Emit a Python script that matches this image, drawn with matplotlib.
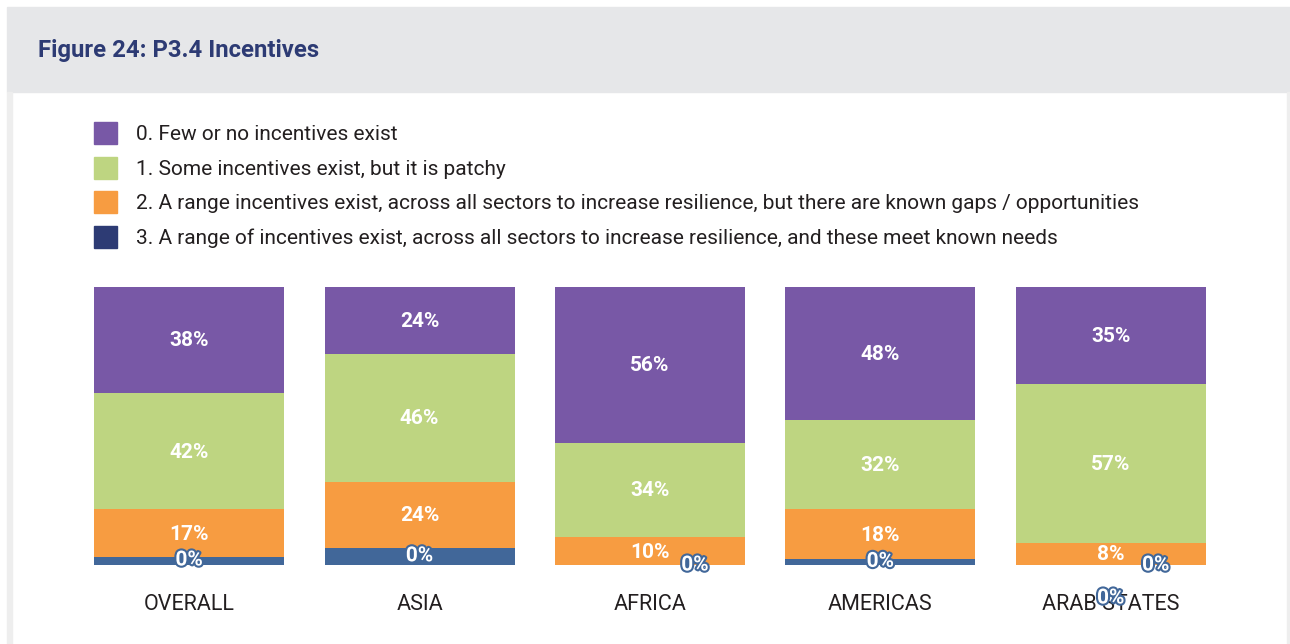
import matplotlib
matplotlib.use("Agg")
import matplotlib.pyplot as plt
from matplotlib.patches import Rectangle
import matplotlib.patheffects as pe

# ---- data -------------------------------------------------------------
regions = ["OVERALL", "ASIA", "AFRICA", "AMERICAS", "ARAB STATES"]
level0 = [38, 24, 56, 48, 35]   # Few or no incentives exist
level1 = [42, 46, 34, 32, 57]   # Some incentives exist, but it is patchy
level2 = [17, 24, 10, 18, 8]    # Range exists, known gaps
level3 = [3, 6, 0, 2, 0]        # Range exists, meets known needs
level3_labels = ["0%", "0%", "0%", "0%", "0%"]

legend_labels = [
    "0. Few or no incentives exist",
    "1. Some incentives exist, but it is patchy",
    "2. A range incentives exist, across all sectors to increase resilience, but there are known gaps / opportunities",
    "3. A range of incentives exist, across all sectors to increase resilience, and these meet known needs",
]
title = "Figure 24: P3.4 Incentives"

# ---- style ------------------------------------------------------------
C_PURPLE = "#7858A6"
C_GREEN = "#BED581"
C_ORANGE = "#F79C41"
C_BLUE_BAR = "#416799"
C_NAVY = "#2D3B74"
C_TEXT = "#231F20"
legend_colors = [C_PURPLE, C_GREEN, C_ORANGE, C_NAVY]

plt.rcParams["font.family"] = ["Roboto", "DejaVu Sans"]

W, H = 1290, 644
fig = plt.figure(figsize=(W / 100, H / 100), dpi=100)
fig.patch.set_facecolor("white")


def fx(px):
    return px / W


def fy(py):
    return 1 - py / H


# page frame: grey header band and side borders
fig.add_artist(Rectangle((fx(7), fy(92)), fx(W - 7), 85 / H,
                         transform=fig.transFigure, color="#E6E7E9", zorder=0))
fig.add_artist(Rectangle((fx(7), 0), fx(5), fy(92),
                         transform=fig.transFigure, color="#EEEEEE", zorder=0))
fig.add_artist(Rectangle((fx(1287), 0), fx(3), fy(92),
                         transform=fig.transFigure, color="#EEEEEE", zorder=0))

fig.text(fx(38), fy(50), title, fontsize=17.2, fontweight="bold",
         color=C_NAVY, va="center", ha="left")

# legend
row_y = [133, 168, 202, 237]
for lab, col, yy in zip(legend_labels, legend_colors, row_y):
    fig.add_artist(Rectangle((fx(94), fy(yy + 11)), fx(23), 22 / H,
                             transform=fig.transFigure, color=col))
    fig.text(fx(136), fy(yy + 1.5), lab, fontsize=15, color=C_TEXT,
             va="center", ha="left")

# stacked bars
ax = fig.add_axes([fx(74), fy(565), fx(1226) - fx(74), fy(287) - fy(565)])
x = list(range(len(regions)))
bw = 190 / 230.4

bottom3 = [0] * len(x)
bottom2 = level3
bottom1 = [a + b for a, b in zip(level3, level2)]
bottom0 = [a + b for a, b in zip(bottom1, level1)]

ax.bar(x, level3, bw, bottom=bottom3, color=C_BLUE_BAR, linewidth=0)
ax.bar(x, level2, bw, bottom=bottom2, color=C_ORANGE, linewidth=0)
ax.bar(x, level1, bw, bottom=bottom1, color=C_GREEN, linewidth=0)
ax.bar(x, level0, bw, bottom=bottom0, color=C_PURPLE, linewidth=0)

ax.set_xlim(-0.5, len(x) - 0.5)
ax.set_ylim(0, 100)
ax.axis("off")

lab_kw = dict(ha="center", va="center", color="white", fontsize=15,
              fontweight="bold")
for i in x:
    for vals, bots in ((level0, bottom0), (level1, bottom1), (level2, bottom2)):
        ax.annotate(f"{vals[i]}%", (i, bots[i] + vals[i] / 2), xytext=(0, -1),
                    textcoords="offset pixels", **lab_kw)

outline = [pe.withStroke(linewidth=3, foreground=C_BLUE_BAR)]
for i in x:
    if level3[i] > 0:
        ax.text(i, level3[i] / 2 + 0.3, level3_labels[i], path_effects=outline,
                **lab_kw)
    else:
        # zero-height segment: label nudged off the bar to the right
        ax.annotate(level3_labels[i], (i, 0), xytext=(45, 0),
                    textcoords="offset pixels", path_effects=outline, **lab_kw)
# stray zero label beneath the last column
ax.annotate(level3_labels[-1], (x[-1], 0), xytext=(0, -33),
            textcoords="offset pixels", path_effects=outline, **lab_kw)

for i, name in zip(x, regions):
    ax.annotate(name, (i, 0), xytext=(0, -40), textcoords="offset pixels",
                ha="center", va="center", fontsize=15.5, color=C_TEXT,
                zorder=1)

fig.savefig("out.png", dpi=100, facecolor="white")
